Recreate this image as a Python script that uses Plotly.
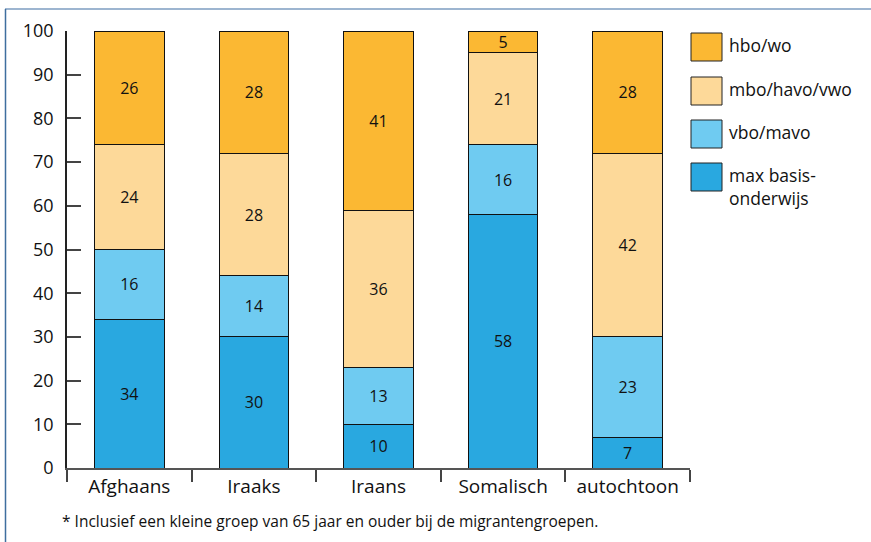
import plotly.graph_objects as go

categories = ["Afghaans", "Iraaks", "Iraans", "Somalisch", "autochtoon"]
series_names = ["max basis-<br>onderwijs", "vbo/mavo", "mbo/havo/vwo", "hbo/wo"]
max_basis = [34, 30, 10, 58, 7]
vbo_mavo = [16, 14, 13, 16, 23]
mbo_havo_vwo = [24, 28, 36, 21, 42]
hbo_wo = [26, 28, 41, 5, 28]
y_ticks = [0, 10, 20, 30, 40, 50, 60, 70, 80, 90, 100]
footnote = "* Inclusief een kleine groep van 65 jaar en ouder bij de migrantengroepen."

colors = ["#29A8E0", "#6FCBF1", "#FDD999", "#FBB833"]
values = [max_basis, vbo_mavo, mbo_havo_vwo, hbo_wo]

W, H = 871, 542
L, R, T, B = 67, 690, 31, 468
FONT = "Open Sans"

def px(x):
    return (x - L) / (R - L)

def py(y):
    return (B - y) / (B - T)

fig = go.Figure()
for name, vals, col in zip(series_names, values, colors):
    fig.add_trace(go.Bar(
        x=categories, y=vals, name=name, width=0.56,
        marker=dict(color=col, line=dict(color="#111111", width=1)),
        text=vals, textposition="inside", insidetextanchor="middle",
        textangle=0, constraintext="none",
        textfont=dict(family=FONT, size=16, color="#111111"),
        showlegend=False, hoverinfo="skip",
    ))

shapes = []
annotations = []
# frame lines (top and left)
shapes.append(dict(type="line", xref="paper", yref="paper",
                   x0=px(5), x1=px(875), y0=py(9), y1=py(9),
                   line=dict(color="#7C9DC0", width=1.5)))
shapes.append(dict(type="line", xref="paper", yref="paper",
                   x0=px(5.5), x1=px(5.5), y0=py(9), y1=py(545),
                   line=dict(color="#3F6E9E", width=1.5)))

# custom legend (top to bottom: hbo/wo first)
leg_tops = [33, 77, 120, 163]
for i, idx in enumerate([3, 2, 1, 0]):
    top = leg_tops[i]
    shapes.append(dict(type="rect", xref="paper", yref="paper",
                       x0=px(691), x1=px(722), y0=py(top), y1=py(top + 28),
                       fillcolor=colors[idx], line=dict(color="#222222", width=1)))
    annotations.append(dict(xref="paper", yref="paper", x=px(727), y=py(top - 2),
                            xanchor="left", yanchor="top", showarrow=False, align="left",
                            text=series_names[idx],
                            font=dict(family=FONT, size=17.5, color="#111111")))

annotations.append(dict(xref="paper", yref="paper", x=px(60), y=py(521),
                        xanchor="left", yanchor="middle", showarrow=False,
                        text=footnote, font=dict(family=FONT, size=15.5, color="#111111")))

fig.update_layout(
    width=W, height=H,
    margin=dict(l=L, r=W - R, t=T, b=H - B),
    barmode="stack",
    plot_bgcolor="white", paper_bgcolor="white",
    shapes=shapes, annotations=annotations,
    showlegend=False,
    uniformtext=dict(minsize=16, mode="show"),
    font=dict(family=FONT, color="#111111"),
)
fig.update_xaxes(range=[-0.5, 4.5], showline=True, linecolor="#555555", linewidth=1.5,
                 ticks="outside", tickson="boundaries", ticklen=12, tickcolor="#444444",
                 tickwidth=1.5, showgrid=False, zeroline=False,
                 tickfont=dict(family=FONT, size=19, color="#111111"))
fig.update_yaxes(range=[0, 100], tickvals=y_ticks, showline=True, linecolor="#222222",
                 linewidth=1.5, ticks="inside", ticklen=14, tickcolor="#444444", tickwidth=1.5,
                 showgrid=False, zeroline=False, ticklabelstandoff=8,
                 tickfont=dict(family=FONT, size=18, color="#111111"))

fig.write_html("out.html", config={"displayModeBar": False},
               post_script="document.body.style.margin='0px';")
